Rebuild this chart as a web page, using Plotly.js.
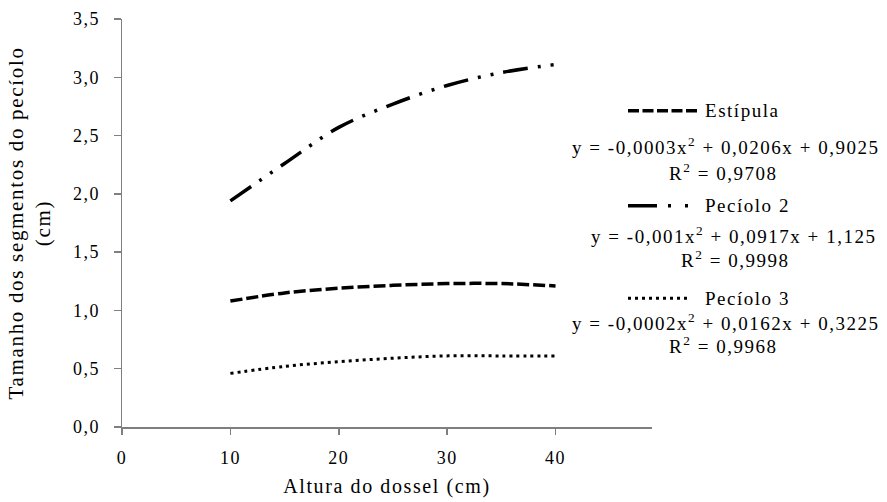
<!DOCTYPE html>
<html>
<head>
<meta charset="utf-8">
<script src="https://cdn.plot.ly/plotly-3.0.1.min.js"></script>
<style>
html, body { margin: 0; padding: 0; background: #ffffff; }
#chart { width: 887px; height: 502px; }
svg text { letter-spacing: 0.08em; }
</style>
</head>
<body>
<div id="chart"></div>
<script>
// ---- data ----
const alturas = [10, 15, 20, 25, 30, 35, 40];
const estipula = [1.08, 1.15, 1.19, 1.215, 1.23, 1.23, 1.21];
const peciolo2 = [1.94, 2.26, 2.57, 2.77, 2.93, 3.04, 3.11];
const peciolo3 = [0.46, 0.52, 0.56, 0.59, 0.61, 0.61, 0.61];

const seriesNames = ['Estípula', 'Pecíolo 2', 'Pecíolo 3'];
const equations = [
  'y = -0,0003x<sup>2</sup> + 0,0206x + 0,9025',
  'y = -0,001x<sup>2</sup> + 0,0917x + 1,125',
  'y = -0,0002x<sup>2</sup> + 0,0162x + 0,3225'
];
const r2Labels = ['R<sup>2</sup> = 0,9708', 'R<sup>2</sup> = 0,9998', 'R<sup>2</sup> = 0,9968'];
const xTickVals = [0, 10, 20, 30, 40];
const yTickVals = [0, 0.5, 1, 1.5, 2, 2.5, 3, 3.5];

const xTitle = 'Altura do dossel (cm)';
const yTitle = 'Tamanho dos segmentos do pecíolo<br>(cm)';

// ---- styling ----
const FONT = 'Liberation Serif, Times New Roman, serif';
const M = { l: 122, r: 235, t: 19, b: 75 };
const W = 887, H = 502;
const PW = W - M.l - M.r, PH = H - M.t - M.b;
const px2x = p => (p - M.l) / PW;
const py2y = p => (H - M.b - p) / PH;

const dashes = ['12px,4px', '25px,10px,3px,10px,3px,10px', '3px,4px'];
const widths = [3.5, 3.5, 3];
const seriesY = [estipula, peciolo2, peciolo3];

const traces = seriesY.map((ys, i) => ({
  type: 'scatter', mode: 'lines', name: seriesNames[i],
  x: alturas, y: ys,
  line: { color: '#000000', width: widths[i], dash: dashes[i], shape: 'spline', smoothing: 1 },
  showlegend: false, hoverinfo: 'skip'
}));

// legend rows (pixel positions from the reference)
const legendRows = [
  { sy: 110.7, sample: [628, 697], sampleDash: '11px,3.5px', nameY: 110, eqY: 146, eqRight: 882, r2X: 723, r2Y: 172 },
  { sy: 205.7, sample: [628, 690], sampleDash: '29px,11px,3px,14px,3px,100px', nameY: 205, eqY: 235, eqRight: 878, r2X: 735, r2Y: 259 },
  { sy: 298.3, sample: [628, 688], sampleDash: '3px,4px', nameY: 298, eqY: 322, eqRight: 882, r2X: 723, r2Y: 345 }
];

const shapes = legendRows.map((r, i) => ({
  type: 'line', xref: 'paper', yref: 'paper', layer: 'above',
  x0: px2x(r.sample[0]), x1: px2x(r.sample[1]), y0: py2y(r.sy), y1: py2y(r.sy),
  line: { color: '#000000', width: widths[i], dash: r.sampleDash }
}));

const annFont = { family: FONT, size: 19, color: '#000000' };
const annotations = [];
legendRows.forEach((r, i) => {
  annotations.push({ xref: 'paper', yref: 'paper', x: px2x(703), y: py2y(r.nameY), xanchor: 'left', yanchor: 'middle',
    text: seriesNames[i], showarrow: false, font: annFont });
  annotations.push({ xref: 'paper', yref: 'paper', x: px2x(r.eqRight), y: py2y(r.eqY), xanchor: 'right', yanchor: 'middle',
    text: equations[i], showarrow: false, font: annFont });
  annotations.push({ xref: 'paper', yref: 'paper', x: px2x(r.r2X), y: py2y(r.r2Y), xanchor: 'center', yanchor: 'middle',
    text: r2Labels[i], showarrow: false, font: annFont });
});

const axisCommon = {
  showline: true, linecolor: '#7f7f7f', linewidth: 1.5,
  ticks: 'outside', tickcolor: '#7f7f7f', tickwidth: 1.5,
  showgrid: false, zeroline: false, automargin: false,
  tickfont: { family: FONT, size: 18, color: '#000000' }
};

const layout = {
  width: W, height: H,
  margin: M,
  paper_bgcolor: '#ffffff', plot_bgcolor: '#ffffff',
  separators: ',.',
  showlegend: false,
  font: { family: FONT, color: '#000000' },
  xaxis: Object.assign({}, axisCommon, {
    range: [0, 48.9], tickvals: xTickVals, ticktext: xTickVals.map(String),
    ticklen: 6, ticklabelstandoff: 8,
    title: { text: xTitle, font: { family: FONT, size: 20, color: '#000000' }, standoff: 12 }
  }),
  yaxis: Object.assign({}, axisCommon, {
    range: [0, 3.5], tickvals: yTickVals, tickformat: '.1f',
    ticklen: 7, ticklabelstandoff: 10,
    title: { text: yTitle, font: { family: FONT, size: 21, color: '#000000' }, standoff: 16 }
  }),
  shapes: shapes,
  annotations: annotations
};

Plotly.newPlot('chart', traces, layout, { displayModeBar: false, staticPlot: true });
</script>
</body>
</html>
